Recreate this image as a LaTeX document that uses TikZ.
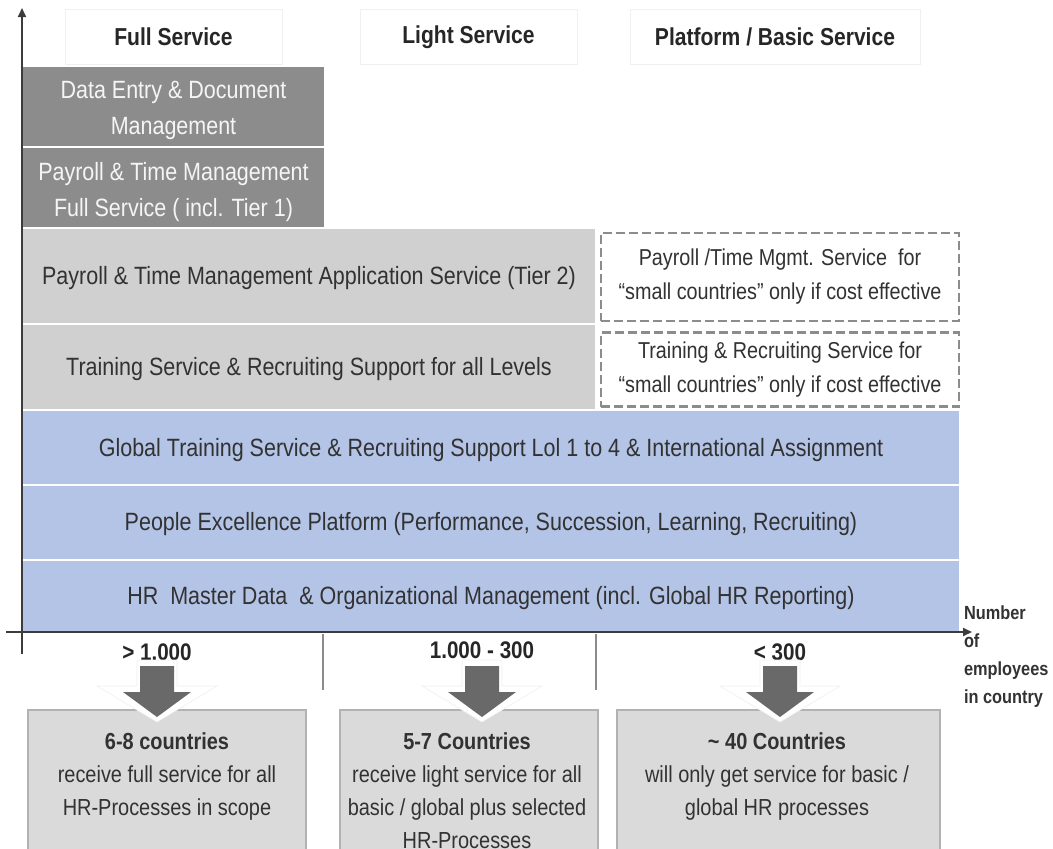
\documentclass[tikz,border=0pt]{standalone}
\usepackage{fontspec}
\setmainfont[FakeStretch=0.86]{Liberation Sans}
\usetikzlibrary{arrows.meta}
\definecolor{darkbox}{RGB}{140,140,140}
\definecolor{lightbox}{RGB}{208,208,208}
\definecolor{bluebox}{RGB}{180,196,230}
\definecolor{txt}{RGB}{50,50,50}
\definecolor{axisc}{RGB}{60,60,60}
\definecolor{botbox}{RGB}{218,218,218}
\definecolor{arrowc}{RGB}{105,105,105}
\tikzset{
  base/.style={inner sep=0pt, outer sep=0pt, align=center, font=\fontsize{25}{36}\selectfont, text=txt},
  header/.style={base, fill=white, draw=black!6, font=\fontsize{24.5}{35}\selectfont\bfseries, text=black!85},
  darkb/.style={base, fill=darkbox, draw=white, line width=1.5pt, text=black!4},
  lightb/.style={base, fill=lightbox, draw=white, line width=1.5pt},
  dashb/.style={base, fill=white, draw=black!45, dash pattern=on 9pt off 4pt, line width=2.5pt, font=\fontsize{23}{34}\selectfont},
  blueb/.style={base, fill=bluebox, draw=white, line width=1.5pt},
  boxtext/.style={base, fill=none, draw=none},
  rangelbl/.style={base, font=\fontsize{24}{30}\selectfont\bfseries, text=black!85},
  botb/.style={base, fill=botbox, draw=black!30, line width=1.5pt},
  bottxt/.style={base, font=\fontsize{23.2}{33}\selectfont},
  axisline/.style={draw=axisc, line width=1.8pt, -{Triangle[length=9pt,width=8pt]}},
  sepline/.style={draw=black!45, line width=1.2pt},
  blockarrow/.style={fill=arrowc, draw=none},
  ghostarrow/.style={fill=white, draw=black!6, line width=0.6pt}
}
\begin{document}
\begin{tikzpicture}[x=1pt,y=-1pt]
\useasboundingbox[fill=white] (0,0) rectangle (1053,849);

% headers
\node[header, minimum width=217, minimum height=55] (h1) at (173.5,37) {Full Service};
\node[header, minimum width=217, minimum height=55] (h2) at (468.5,37) {Light Service};
\node[header, minimum width=290, minimum height=55] (h3) at (775,37) {Platform / Basic Service};

% dark boxes
\node[darkb, minimum width=303, minimum height=81] (de) at (173.5,106.5) {};
\node[boxtext, text=black!4] (det) at (173.5,110) {Data Entry \& Document\\Management};
\node[darkb, minimum width=303, minimum height=81] (pf) at (173.5,187.5) {};
\node[boxtext, text=black!4] (pft) at (173.5,192) {Payroll \& Time Management\\Full Service ( incl. Tier 1)};

% light boxes
\node[lightb, minimum width=574, minimum height=96] (pt) at (309,276) {};
\node[boxtext] (ptt) at (309,278) {Payroll \& Time Management Application Service (Tier 2)};
\node[lightb, minimum width=574, minimum height=86] (ts) at (309,367) {};
\node[boxtext] (tst) at (309,369) {Training Service \& Recruiting Support for all Levels};

% dashed boxes
\node[dashb, minimum width=358, minimum height=88] (ds1) at (780,277) {Payroll /Time Mgmt. Service\ \ for\\“small countries” only if cost effective};
\node[dashb, minimum width=358, minimum height=74] (ds2) at (780,369.5) {Training \& Recruiting Service for\\“small countries” only if cost effective};

% blue boxes
\node[blueb, minimum width=938, minimum height=75] (b1) at (491,447.5) {};
\node[boxtext] (b1t) at (491,450) {Global Training Service \& Recruiting Support Lol 1 to 4 \& International Assignment};
\node[blueb, minimum width=938, minimum height=75] (b2) at (491,522.5) {};
\node[boxtext] (b2t) at (491,524.5) {People Excellence Platform (Performance, Succession, Learning, Recruiting)};
\node[blueb, minimum width=938, minimum height=72] (b3) at (491,596.5) {};
\node[boxtext] (b3t) at (491,598.5) {HR\ \ Master Data\ \ \& Organizational Management (incl. Global HR Reporting)};

% axes
\coordinate (yo) at (22,654);
\coordinate (yt) at (22,8);
\coordinate (xo) at (6,632);
\coordinate (xt) at (972,632);
\draw[axisline] (yo) -- (yt);
\draw[axisline] (xo) -- (xt);

% separators
\coordinate (s1a) at (323,634); \coordinate (s1b) at (323,690);
\coordinate (s2a) at (596,634); \coordinate (s2b) at (596,690);
\draw[sepline] (s1a) -- (s1b);
\draw[sepline] (s2a) -- (s2b);

% range labels
\node[rangelbl] (r1) at (157,652) {> 1.000};
\node[rangelbl] (r2) at (482,650) {1.000 - 300};
\node[rangelbl] (r3) at (780,652) {< 300};

% axis label
\node[base, anchor=north west, align=left, font=\fontsize{19}{28}\selectfont\bfseries, text=black!80] (xl) at (964,606) {Number\\of\\employees\\in country};

% bottom boxes
\node[botb, minimum width=278, minimum height=150] (c1) at (167,785) {};
\node[botb, minimum width=258, minimum height=150] (c2) at (469,785) {};
\node[botb, minimum width=323, minimum height=150] (c3) at (778.5,785) {};

% block arrows
\foreach \cx/\nm in {157/a1, 482/a2, 780/a3}{
  \filldraw[ghostarrow] (\cx-20,660) -- (\cx+20,660) -- (\cx+20,686) -- (\cx+60,686) -- (\cx,722) -- (\cx-60,686) -- (\cx-20,686) -- cycle;
  \fill[blockarrow] (\cx-17,666) -- (\cx+17,666) -- (\cx+17,692) -- (\cx+34,692) -- (\cx,717) -- (\cx-34,692) -- (\cx-17,692) -- cycle;
}

% bottom texts
\node[bottxt, anchor=north] (t1) at (167,733) {\textbf{6-8 countries}\\receive full service for all\\HR-Processes in scope};
\node[bottxt, anchor=north] (t2) at (467,733) {\textbf{5-7 Countries}\\receive light service for all\\basic / global plus selected\\HR-Processes};
\node[bottxt, anchor=north] (t3) at (777,733) {\textbf{\textasciitilde\ 40 Countries}\\will only get service for basic /\\global HR processes};
\end{tikzpicture}
\end{document}
